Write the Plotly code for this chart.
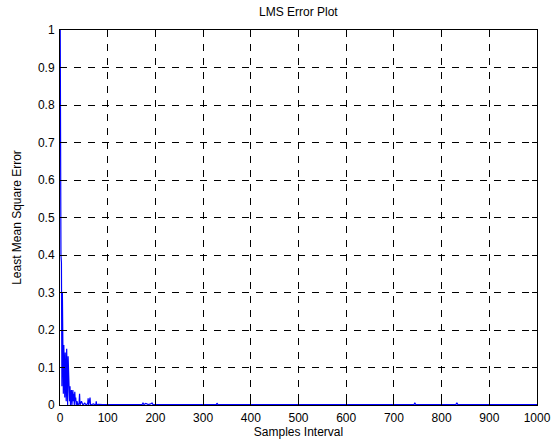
import plotly.graph_objects as go

# Sample indices and LMS squared error
samples = [0, 1, 2, 3, 4, 5, 6, 7, 8, 9, 10, 11, 12, 13, 14, 15, 16, 17, 18, 19,
           20, 21, 22, 23, 24, 25, 26, 27, 28, 29, 30, 31, 32, 33, 34, 35, 36, 37, 38, 40,
           41, 42, 45, 48, 52, 55, 58, 59, 60, 63, 64, 70, 75, 76, 77, 80, 90, 110, 140,
           172, 174, 176, 180, 185, 190, 193, 195, 230, 260, 300, 328, 329, 331, 380, 430,
           480, 520, 560, 600, 650, 700, 742, 744, 746, 790, 830, 832, 834, 880, 940, 1000]
error = [1.2, 0.40, 0.40, 0.38, 0.05, 0.30, 0.17, 0.03, 0.16, 0.12, 0.02, 0.14, 0.08, 0.01, 0.15,
         0.10, 0.00, 0.13, 0.06, 0.07, 0.01, 0.05, 0.00, 0.03, 0.04, 0.00, 0.02, 0.04, 0.01, 0.03,
         0.00, 0.035, 0.01, 0.02, 0.00, 0.005, 0.01, 0.00, 0.00, 0.005, 0.03, 0.00, 0.01, 0.00,
         0.005, 0.00, 0.004, 0.018, 0.00, 0.02, 0.00, 0.003, 0.00, 0.01, 0.00, 0.002, 0.001,
         0.001, 0.001, 0.001, 0.005, 0.001, 0.004, 0.001, 0.003, 0.005, 0.001, 0.001, 0.001,
         0.001, 0.001, 0.005, 0.001, 0.001, 0.001, 0.001, 0.001, 0.001, 0.001, 0.001, 0.001,
         0.001, 0.005, 0.001, 0.001, 0.001, 0.006, 0.001, 0.001, 0.001, 0.001]

x_ticks = [0, 100, 200, 300, 400, 500, 600, 700, 800, 900, 1000]
y_ticks = [0, 0.1, 0.2, 0.3, 0.4, 0.5, 0.6, 0.7, 0.8, 0.9, 1]
y_tick_labels = ["0", "0.1", "0.2", "0.3", "0.4", "0.5", "0.6", "0.7", "0.8", "0.9", "1"]

FONT = dict(family="Liberation Sans, Arial", size=12, color="black")

axis_common = dict(
    showline=True, linecolor="black", linewidth=1, mirror="ticks",
    ticks="inside", ticklen=5, tickcolor="black", tickwidth=1,
    showgrid=True, gridcolor="black", gridwidth=0.6, griddash="7px,7px",
    zeroline=False, tickfont=FONT, automargin=False,
)

fig = go.Figure()
fig.add_trace(go.Scatter(x=samples, y=error, mode="lines",
                         line=dict(color="#0000ff", width=1.2), showlegend=False))

fig.update_xaxes(range=[0, 1000], tickvals=x_ticks, ticklabelstandoff=2,
                 title=dict(text="Samples Interval", standoff=3, font=FONT),
                 **axis_common)
fig.update_yaxes(range=[0, 1], tickvals=y_ticks, ticktext=y_tick_labels, ticklabelstandoff=2,
                 title=dict(text="Least Mean Square Error", standoff=13, font=FONT),
                 **axis_common)

fig.update_layout(
    width=551, height=447,
    margin=dict(l=60, r=14, t=30, b=42, autoexpand=False),
    paper_bgcolor="white", plot_bgcolor="white",
    annotations=[dict(text="LMS Error Plot", x=0.5, xref="paper", xanchor="center",
                      y=1 + 18 / 375, yref="paper", yanchor="middle",
                      showarrow=False, font=FONT)],
)

fig.write_html("out.html", config={"displayModeBar": False},
               post_script="document.body.style.margin='0';")
